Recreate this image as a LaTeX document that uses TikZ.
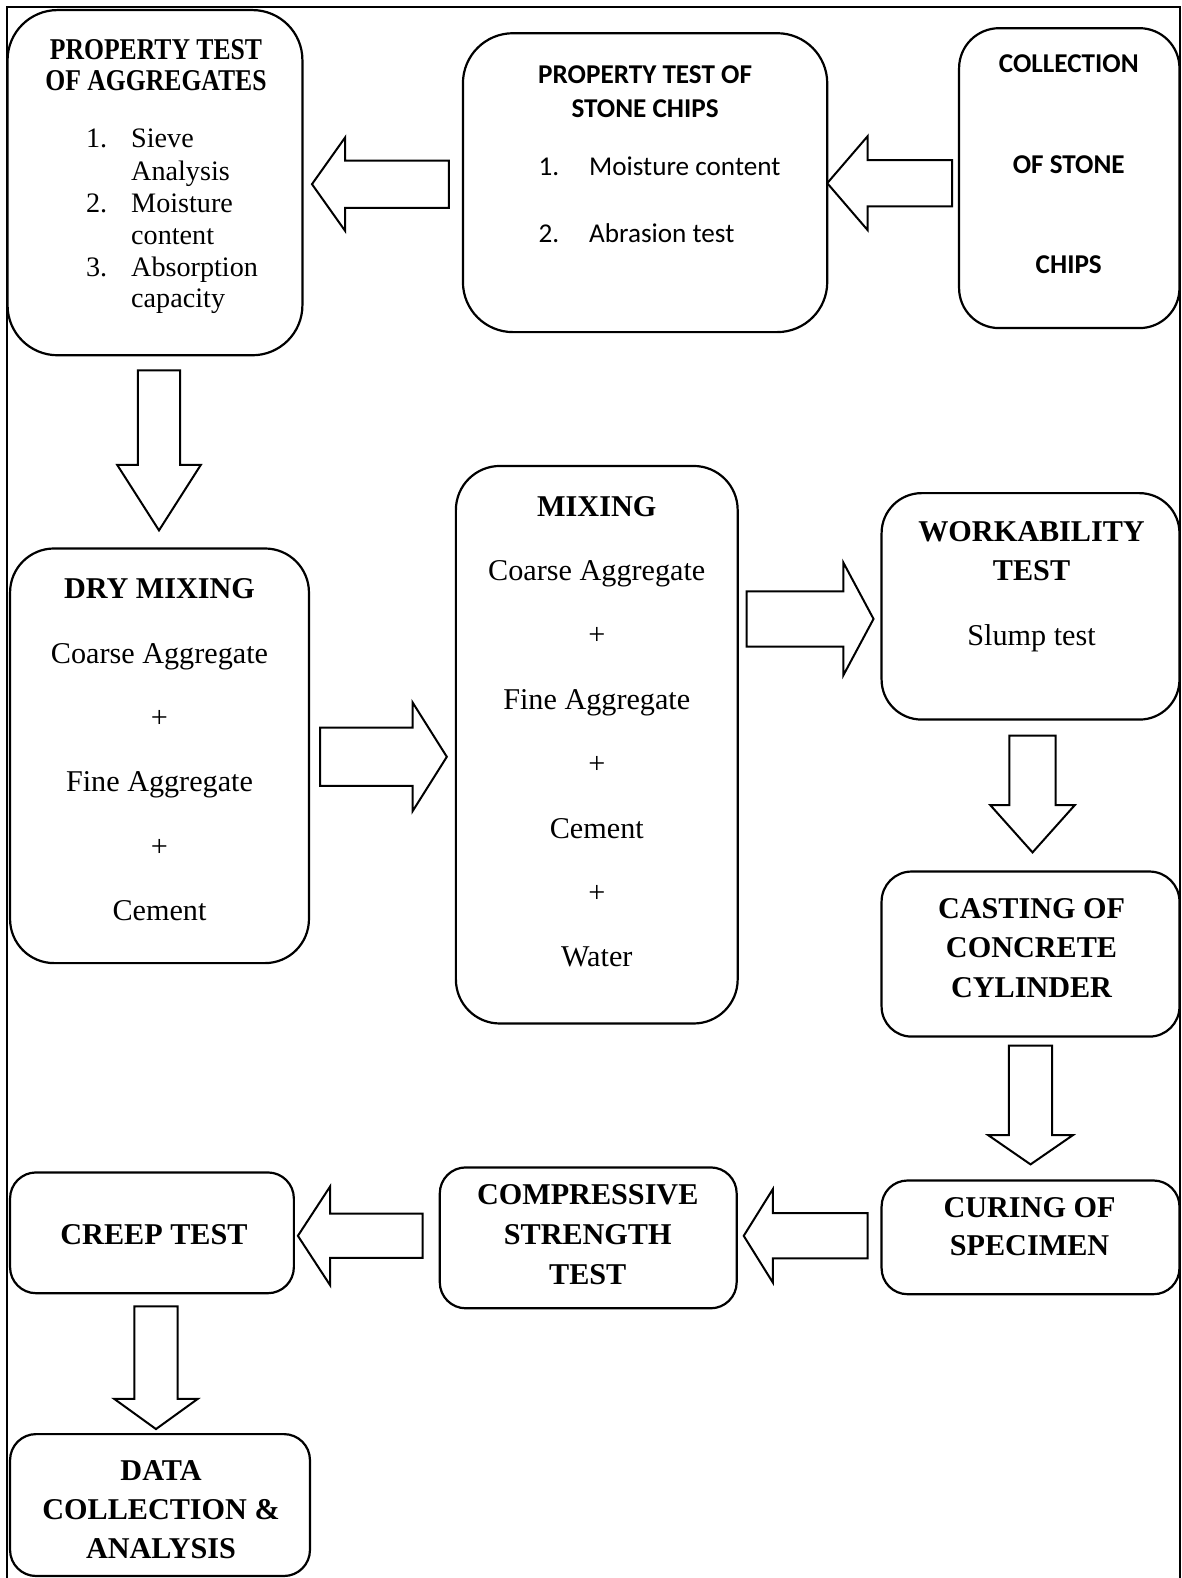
\documentclass[tikz,border=0pt]{standalone}
\usepackage{fontspec}
\setmainfont{Liberation Serif}
\newfontfamily\calib{Carlito}
\newfontfamily\cambx[FakeStretch=0.85]{Liberation Serif}
\newcommand\pxu{0.503pt}
% horizontal block arrow: tail x, head-base x, tip x, centre y, shaft half, head half
\newcommand\harrow[6]{\draw[blk] (#1,#4-#5) -- (#2,#4-#5) -- (#2,#4-#6) -- (#3,#4) -- (#2,#4+#6) -- (#2,#4+#5) -- (#1,#4+#5) -- cycle;}
% vertical block arrow: centre x, top y, head-base y, tip y, shaft half, head half
\newcommand\varrow[6]{\draw[blk] (#1-#5,#2) -- (#1+#5,#2) -- (#1+#5,#3) -- (#1+#6,#3) -- (#1,#4) -- (#1-#6,#3) -- (#1-#5,#3) -- cycle;}
\tikzset{
  box/.style={draw, line width=1.1pt, rounded corners=#1, inner sep=0pt},
  box/.default=20pt,
  blk/.style={draw, line width=1pt, fill=white, line join=miter},
  txt/.style={align=center, inner sep=0pt},
  ser/.style={txt, font=\fontsize{15.09}{#1}\selectfont},
  serb/.style={txt, font=\bfseries\fontsize{15.09}{#1}\selectfont},
  cal/.style={inner sep=0pt, font=\calib\fontsize{13.58}{16.85}\selectfont},
  calb/.style={txt, font=\calib\bfseries\fontsize{13.58}{#1}\selectfont},
  cam/.style={inner sep=0pt, font=\fontsize{14.08}{16.1}\selectfont},
}
\begin{document}
\begin{tikzpicture}[x=0.503pt, y=-0.503pt]
\useasboundingbox (0,0) rectangle (1174,1568);
\draw[line width=1pt] (7,7) rectangle (1173,1585);

% boxes
\node[box=25pt, minimum width=293*\pxu, minimum height=343*\pxu] (agg) at (154,181.5) {};
\node[box=25pt, minimum width=362*\pxu, minimum height=297*\pxu] (chipt) at (641,181.5) {};
\node[box=20pt, minimum width=219*\pxu, minimum height=298*\pxu] (coll) at (1062.5,177) {};
\node[box=22pt, minimum width=297*\pxu, minimum height=412*\pxu] (dry) at (158.5,751) {};
\node[box=22pt, minimum width=280*\pxu, minimum height=554*\pxu] (mix) at (593,740) {};
\node[box=20pt, minimum width=296*\pxu, minimum height=225*\pxu] (work) at (1024,602.5) {};
\node[box=15pt, minimum width=296*\pxu, minimum height=164*\pxu] (cast) at (1024,948) {};
\node[box=13pt, minimum width=296*\pxu, minimum height=113*\pxu] (cure) at (1024,1229.5) {};
\node[box=13pt, minimum width=295*\pxu, minimum height=140*\pxu] (comp) at (584.5,1230) {};
\node[box=13pt, minimum width=282*\pxu, minimum height=120*\pxu] (creep) at (151,1225) {};
\node[box=13pt, minimum width=298*\pxu, minimum height=141*\pxu] (data) at (159,1495.5) {};

% box 1 text
\node[txt, font=\cambx\bfseries\fontsize{15.09}{15.6}\selectfont] (aggT) at (155,65) {PROPERTY TEST\\OF AGGREGATES};
\node[cam, anchor=base east] (a1n) at (107,147) {1.};
\node[cam, anchor=base west] (a1a) at (130,147) {Sieve};
\node[cam, anchor=base west] (a1b) at (130,179) {Analysis};
\node[cam, anchor=base east] (a2n) at (107,211) {2.};
\node[cam, anchor=base west] (a2a) at (130,211) {Moisture};
\node[cam, anchor=base west] (a2b) at (130,243) {content};
\node[cam, anchor=base east] (a3n) at (107,275) {3.};
\node[cam, anchor=base west] (a3a) at (130,275) {Absorption};
\node[cam, anchor=base west] (a3b) at (130,306) {capacity};

% box 2 text
\node[calb=16.85pt] (chipT) at (641,91) {PROPERTY TEST OF\\STONE CHIPS};
\node[cal, anchor=base east] (c1n) at (556,174) {1.};
\node[cal, anchor=base west] (c1a) at (585,174) {Moisture content};
\node[cal, anchor=base east] (c2n) at (556,240.5) {2.};
\node[cal, anchor=base west] (c2a) at (585,240.5) {Abrasion test};

% box 3 text
\node[calb=50.2pt] (collT) at (1062,163.5) {COLLECTION\\OF STONE\\CHIPS};

% serif boxes
\node[ser=32.19pt] (dryT) at (158.5,745) {\textbf{DRY MIXING}\\Coarse Aggregate\\+\\Fine Aggregate\\+\\Cement};
\node[ser=32.19pt] (mixT) at (593,727) {\textbf{MIXING}\\Coarse Aggregate\\+\\Fine Aggregate\\+\\Cement\\+\\Water};
\node[serb=19.62pt] (workT) at (1025,547.5) {WORKABILITY\\TEST};
\node[ser=19.62pt, anchor=base] (workS) at (1025,641) {Slump test};
\node[serb=19.87pt] (castT) at (1025,942) {CASTING OF\\CONCRETE\\CYLINDER};
\node[serb=19.1pt] (cureT) at (1023,1219) {CURING OF\\SPECIMEN};
\node[serb=19.87pt] (compT) at (584,1227) {COMPRESSIVE\\STRENGTH\\TEST};
\node[serb=19.6pt] (creepT) at (153,1227) {CREEP TEST};
\node[serb=19.6pt] (dataT) at (160,1500) {DATA\\COLLECTION \&\\ANALYSIS};

% block arrows
\harrow{446}{343}{310}{183}{23.5}{46.5}
\harrow{946}{862}{822}{182}{23}{46.5}
\varrow{158}{368}{462}{527}{21}{41.5}
\harrow{318}{410}{444}{752}{29}{54}
\harrow{742}{838}{868}{615}{27.5}{56}
\varrow{1026}{731}{800}{847}{23}{42}
\varrow{1024}{1039}{1128}{1157}{21.5}{42}
\harrow{862}{768}{739}{1228}{22.5}{46.5}
\harrow{420}{328}{296}{1228}{22}{49}
\varrow{155}{1298}{1390}{1420}{21.5}{41.5}
\end{tikzpicture}
\end{document}
